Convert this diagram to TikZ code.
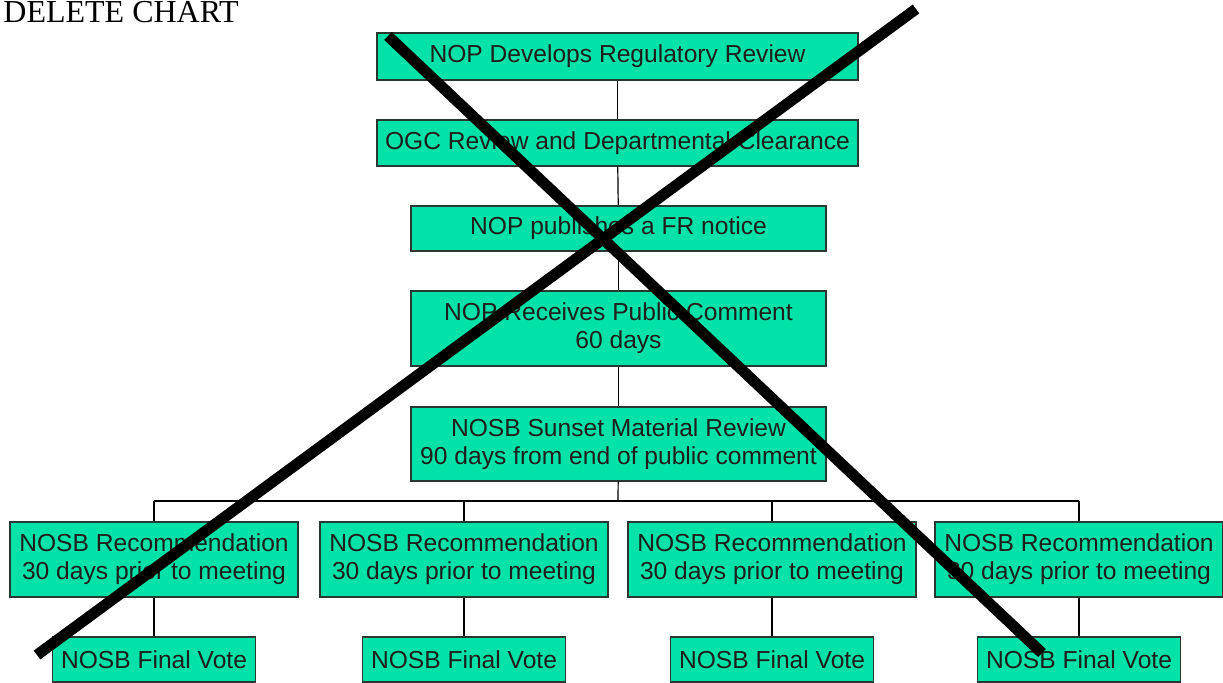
\documentclass[tikz,border=0pt]{standalone}
\usepackage{fontspec}
\setmainfont{Liberation Sans}
\newfontfamily\titelschrift{Liberation Serif}
\definecolor{kastengruen}{RGB}{0,226,168}
\definecolor{rahmengrau}{RGB}{45,55,50}
\definecolor{textgrau}{RGB}{30,30,30}
\tikzset{
  kasten/.style={draw=rahmengrau, line width=0.75pt, fill=kastengruen, text=textgrau,
    align=center, inner sep=0pt, font=\fontsize{12.3}{14}\selectfont},
  linie/.style={line width=0.6pt}
}

\begin{document}
\begin{tikzpicture}[x=0.5pt, y=-0.5pt]
			% Rahmen festlegen
			\useasboundingbox (0,0) rectangle (1223,683);
			
			% Ueberschrift
			\node[anchor=base west, inner sep=0pt, font=\titelschrift\fontsize{16}{18}\selectfont] (titel) at (3,22.7) {DELETE CHART};
			
			% Hauptspalte
			\node[kasten, minimum width=240.5pt, minimum height=23.5pt] (review) at (617.5,56.5) {NOP Develops Regulatory Review};
			\node[kasten, minimum width=240.5pt, minimum height=23pt] (ogc) at (617.5,143) {OGC Review and Departmental Clearance};
			\node[kasten, minimum width=207.5pt, minimum height=22.5pt] (notice) at (618.5,228.5) {NOP publishes a FR notice};
			\node[kasten, minimum width=207.5pt, minimum height=37.5pt] (comment) at (618.5,328.5) {NOP Receives Public Comment\\60 days};
			\node[kasten, minimum width=207.5pt, minimum height=37pt] (sunset) at (618.5,444) {NOSB Sunset Material Review\\90 days from end of public comment};
			
			% Verbindungen
			\draw[linie] (review) -- (ogc);
			\draw[linie] (ogc) -- (notice);
			\draw[linie] (notice) -- (comment);
			\draw[linie] (comment) -- (sunset);
			\coordinate (bus) at (618,501);
			\draw[linie] (sunset) -- (bus);
			
			% Empfehlungen und Abstimmungen
			\foreach \x [count=\i] in {154,464,772,1079} {
				\node[kasten, minimum width=144pt, minimum height=37.5pt] (rec\i) at (\x,559.5) {NOSB Recommendation\\30 days prior to meeting};
				\node[kasten, minimum width=101.5pt, minimum height=22.5pt] (vote\i) at (\x,659.5) {NOSB Final Vote};
				\draw[linie] (rec\i.north |- bus) -- (rec\i);
				\draw[linie] (rec\i) -- (vote\i);
			}
			\draw[linie] (rec1.north |- bus) -- (rec4.north |- bus);
			
			% Kreuz
			\draw[line width=5.5pt] (388,36) -- (1042,653);
			\draw[line width=5.5pt] (916,9) -- (37,655);
	\end{tikzpicture}
\end{document}
